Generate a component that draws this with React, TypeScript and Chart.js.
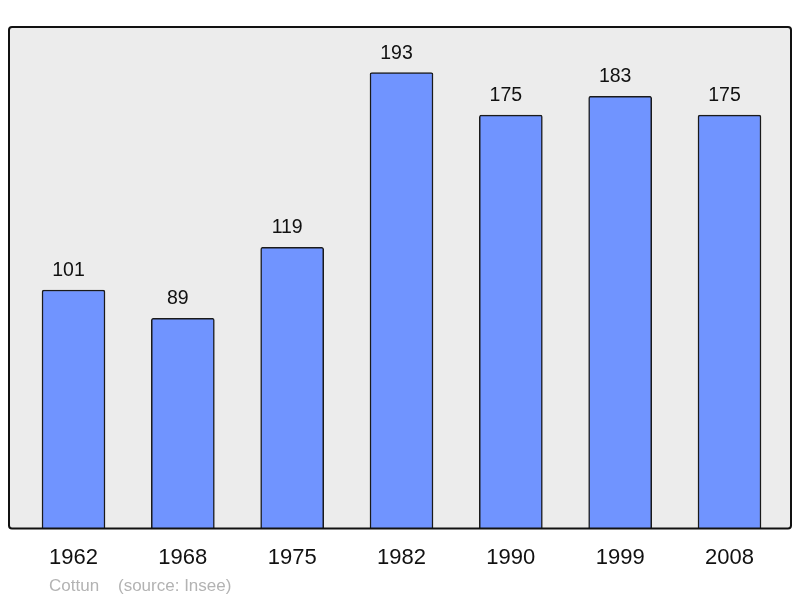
import React, { useEffect, useRef } from "react";
import { Chart, registerables } from "chart.js";

Chart.register(...registerables);

const years = ["1962", "1968", "1975", "1982", "1990", "1999", "2008"];
const population = [101, 89, 119, 193, 175, 183, 175];
const footerName = "Cottun";
const footerSource = "(source: Insee)";

const FONT = "'Liberation Sans', Arial, sans-serif";

function roundRectPath(ctx: CanvasRenderingContext2D, x: number, y: number, w: number, h: number, r: number) {
  ctx.beginPath();
  ctx.moveTo(x + r, y);
  ctx.lineTo(x + w - r, y);
  ctx.arcTo(x + w, y, x + w, y + r, r);
  ctx.lineTo(x + w, y + h - r);
  ctx.arcTo(x + w, y + h, x + w - r, y + h, r);
  ctx.lineTo(x + r, y + h);
  ctx.arcTo(x, y + h, x, y + h - r, r);
  ctx.lineTo(x, y + r);
  ctx.arcTo(x, y, x + r, y, r);
  ctx.closePath();
}

const framePlugin = {
  id: "frame",
  beforeDatasetsDraw(chart: any) {
    const { ctx, chartArea: a } = chart;
    ctx.save();
    roundRectPath(ctx, a.left, a.top, a.right - a.left, a.bottom - a.top, 3);
    ctx.fillStyle = "#ececec";
    ctx.fill();
    ctx.restore();
  },
  afterDatasetsDraw(chart: any) {
    const { ctx, chartArea: a } = chart;
    ctx.save();
    roundRectPath(ctx, a.left, a.top, a.right - a.left, a.bottom - a.top, 3);
    ctx.lineWidth = 2;
    ctx.strokeStyle = "#111111";
    ctx.stroke();
    // value labels
    const meta = chart.getDatasetMeta(0);
    ctx.fillStyle = "#111111";
    ctx.font = `19.5px ${FONT}`;
    ctx.textAlign = "center";
    ctx.textBaseline = "alphabetic";
    meta.data.forEach((bar: any, i: number) => {
      ctx.fillText(String(population[i]), bar.x - 5, bar.y - 14);
    });
    // footer
    ctx.fillStyle = "#b3b3b3";
    ctx.font = `17px ${FONT}`;
    ctx.textAlign = "left";
    ctx.fillText(footerName, 49, 591);
    ctx.fillText(footerSource, 118, 591);
    ctx.restore();
  },
};

export default function App() {
  const ref = useRef<HTMLCanvasElement | null>(null);
  useEffect(() => {
    if (!ref.current) return;
    const chart = new Chart(ref.current, {
      type: "bar",
      data: {
        datasets: [
          {
            data: population.map((v, i) => ({ x: i, y: v })),
            backgroundColor: "#7094ff",
            borderColor: "#1a1a1a",
            borderWidth: 1.5,
            borderSkipped: "bottom",
            borderRadius: { topLeft: 2, topRight: 2, bottomLeft: 0, bottomRight: 0 },
            barThickness: 63,
          },
        ],
      },
      options: {
        animation: false,
        responsive: false,
        maintainAspectRatio: false,
        layout: { padding: { left: 9, right: 9, top: 27, bottom: 11 } },
        plugins: { legend: { display: false }, tooltip: { enabled: false } },
        scales: {
          x: {
            type: "linear",
            offset: false,
            bounds: "ticks",
            min: -0.59,
            max: 6.5625,
            grid: { display: false, drawTicks: false },
            border: { display: false },
            afterBuildTicks: (scale: any) => {
              scale.ticks = years.map((_, i) => ({ value: i }));
            },
            ticks: {
              autoSkip: false,
              maxRotation: 0,
              padding: 16,
              color: "#111111",
              font: { size: 22, family: FONT },
              callback: (v: any) => years[Math.round(Number(v))] ?? "",
            },
          },
          y: {
            display: false,
            min: 0,
            max: 212.3,
          },
        },
      },
      plugins: [framePlugin],
    });
    return () => chart.destroy();
  }, []);
  return (
    <div style={{ position: "fixed", left: 0, top: 0, width: 800, height: 598, background: "#ffffff" }}>
      <canvas ref={ref} width={800} height={598} style={{ width: 800, height: 598, display: "block" }} />
    </div>
  );
}
